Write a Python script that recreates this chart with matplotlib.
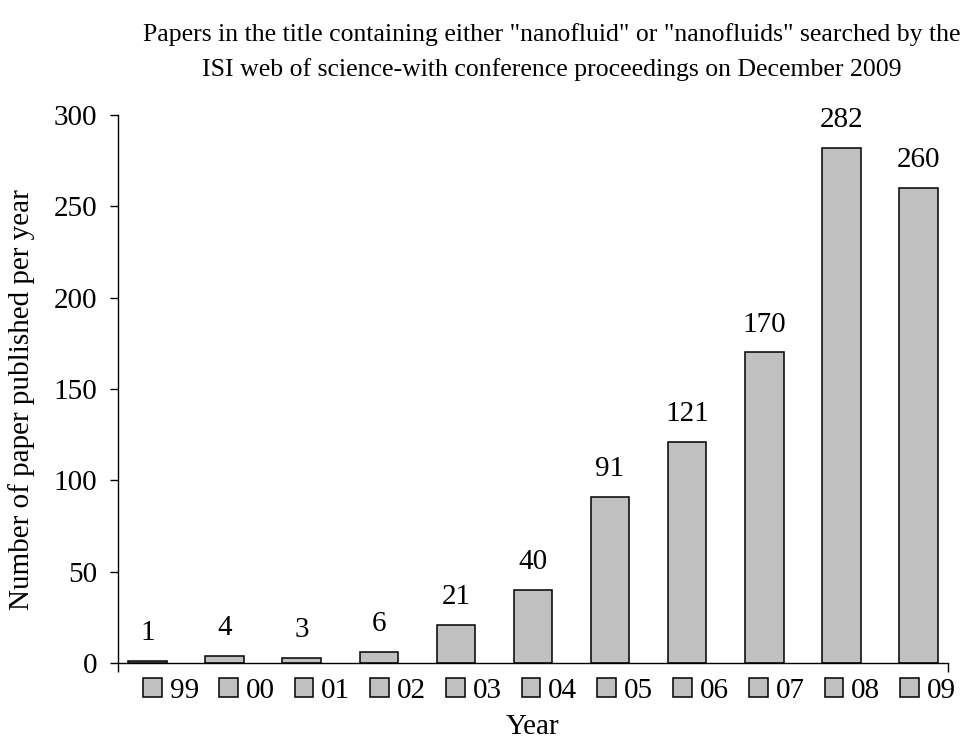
import matplotlib
matplotlib.use("Agg")
import matplotlib.pyplot as plt
from matplotlib.patches import Patch

# papers per year with "nanofluid(s)" in the title
years = ["99", "00", "01", "02", "03", "04", "05", "06", "07", "08", "09"]
papers = [1, 4, 3, 6, 21, 40, 91, 121, 170, 282, 260]

plt.rcParams["font.family"] = ["Liberation Serif", "DejaVu Serif"]
bar_color = "#c0c0c0"
fs = 21

fig = plt.figure(figsize=(9.71, 7.44), dpi=100)
ax = fig.add_axes([118 / 971, 1 - 663 / 744, 830 / 971, 548 / 744])

x = list(range(len(years)))
ax.bar(x, papers, width=0.5, color=bar_color, edgecolor="black", linewidth=1.1)

for xi, v in zip(x, papers):
    ax.annotate(str(v), (xi, v), xytext=(0, 15), textcoords="offset points",
                ha="center", va="baseline", fontsize=fs)

ax.set_xlim(-0.383, len(years) - 1 + 0.383)
ax.set_ylim(0, 300)
ax.set_yticks(range(0, 301, 50))
ax.tick_params(axis="y", direction="out", length=5.8, width=1, labelsize=fs, pad=9)
# category axis only shows the end tick marks
ax.set_xticks(ax.get_xlim())
ax.set_xticklabels([])
ax.tick_params(axis="x", direction="out", length=6.5, width=1)

for side in ("top", "right"):
    ax.spines[side].set_visible(False)
for side in ("left", "bottom"):
    ax.spines[side].set_linewidth(1)

handles = [Patch(facecolor=bar_color, edgecolor="black", linewidth=1.1) for _ in years]
fig.legend(handles, years, loc="center left", bbox_to_anchor=(143 / 971, 1 - 691 / 744),
           ncol=len(years), frameon=False, fontsize=fs, handlelength=0.64,
           handleheight=0.64, handletextpad=0.27, columnspacing=0.69,
           borderpad=0, borderaxespad=0)

fig.text(533 / 971, 1 - 727 / 744, "Year", ha="center", va="center", fontsize=fs)
fig.text(22 / 971, 1 - 400 / 744, "Number of paper published per year", rotation=90,
         ha="center", va="center", fontsize=fs)

fig.text(552 / 971, 1 - 35 / 744,
         'Papers in the title containing either "nanofluid" or "nanofluids" searched by the',
         ha="center", va="center", fontsize=18.5)
fig.text(552 / 971, 1 - 70 / 744,
         "ISI web of science-with conference proceedings on December 2009",
         ha="center", va="center", fontsize=18.5)

fig.savefig("out.png", dpi=100)
